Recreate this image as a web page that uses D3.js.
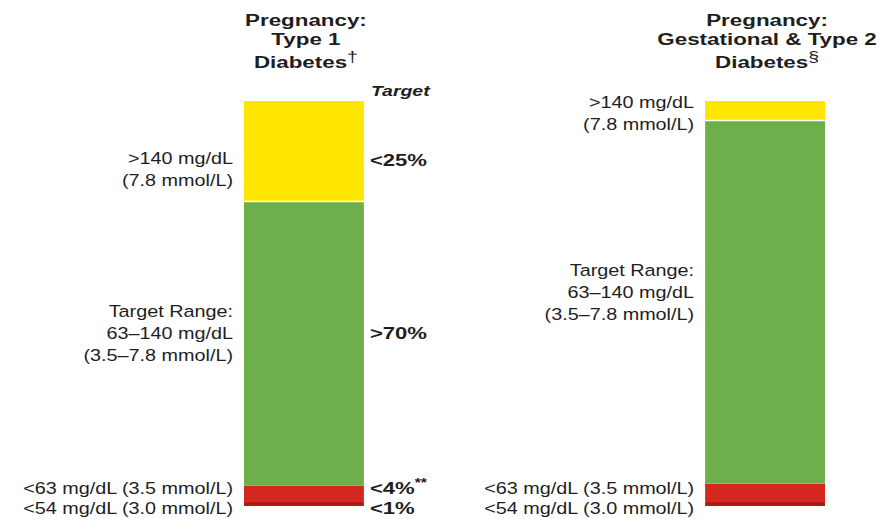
<!DOCTYPE html>
<html>
<head>
<meta charset="utf-8">
<script src="https://cdn.jsdelivr.net/npm/d3@7"></script>
<style>
  body { margin: 0; background: #fff; }
  svg text { font-family: "Liberation Sans", Arial, sans-serif; fill: #1e1e1e; }
</style>
</head>
<body>
<div id="chart"></div>
<script>
// segments from bottom to top
var segments = ["veryLow", "low", "inRange", "high"];
var segColors = ["#b01b16", "#d62620", "#6db04b", "#ffe600"];

var panels = ["type1", "gest"];
var panelTitles = [
  ["Pregnancy:", "Type 1", "Diabetes"],
  ["Pregnancy:", "Gestational & Type 2", "Diabetes"]
];
var titleMarks = ["\u2020", "\u00a7"];

// percent of time in each segment (bottom to top)
var type1Values = [1, 4, 70, 25];
var gestValues = [1, 4.5, 89.5, 5];

var type1Targets = ["<1%", "<4%", ">70%", "<25%"];
var type1TargetMarks = ["", "**", "", ""];

var segLabels = [
  ["<54 mg/dL (3.0 mmol/L)"],
  ["<63 mg/dL (3.5 mmol/L)"],
  ["Target Range:", "63\u2013140 mg/dL", "(3.5\u20137.8 mmol/L)"],
  [">140 mg/dL", "(7.8 mmol/L)"]
];

var width = 887, height = 519;
var lineH = 22;
var regScale = 1.165, boldScale = 1.3;

var svg = d3.select("#chart").append("svg")
  .attr("width", width)
  .attr("height", height);

var x = d3.scaleBand()
  .domain(panels)
  .range([244, 825])
  .paddingInner(0.74)
  .paddingOuter(0);

var y = d3.scaleLinear()
  .domain([0, 100])
  .range([506, 101]);

function stackUp(vals) {
  var acc = 0;
  return vals.map(function(v, i) {
    var d = {key: segments[i], y0: acc, y1: acc + v, i: i};
    acc += v;
    return d;
  });
}

var allValues = [type1Values, gestValues];

// label offsets (px) from each segment's midpoint, per panel
var labelDy = [
  [4, -6, -11, 17],
  [4, -5, -10, 2]
];
var targetDy = [4, -6, -11, 8];

// text helper: horizontally stretched like the source
function addText(g, str, tx, ty, opts) {
  var sx = opts.bold ? boldScale : regScale;
  var t = g.append("text")
    .attr("transform", "translate(" + tx + "," + ty + ") scale(" + sx + ",1)")
    .attr("text-anchor", opts.anchor || "start")
    .style("font-size", (opts.size || 17) + "px")
    .style("font-weight", opts.bold ? "bold" : "normal")
    .style("font-style", opts.italic ? "italic" : "normal")
    .text(str);
  if (opts.sup) {
    t.append("tspan")
      .attr("dy", opts.supDy || -7)
      .style("font-size", (opts.supSize || 12) + "px")
      .style("font-weight", opts.supWeight || "bold")
      .text(opts.sup);
  }
  return t;
}

panels.forEach(function(p, pi) {
  var g = svg.append("g").attr("class", "panel-" + p);
  var data = stackUp(allValues[pi]);
  var bx = x(p), bw = x.bandwidth();

  g.selectAll("rect.seg")
    .data(data)
    .enter().append("rect")
      .attr("class", "seg")
      .attr("x", bx)
      .attr("width", bw)
      .attr("y", function(d) { return y(d.y1); })
      .attr("height", function(d) {
        var h = y(d.y0) - y(d.y1);
        return d.key === "high" ? h - 1.5 : h;
      })
      .style("fill", function(d) { return segColors[d.i]; });

  // title
  var cx = bx + bw / 2 + 2;
  var titleY = [26, 45, 68];
  panelTitles[pi].forEach(function(line, li) {
    addText(g, line, cx, titleY[li], {
      bold: true, size: 17.2, anchor: "middle",
      sup: li === 2 ? titleMarks[pi] : null,
      supSize: 15, supDy: -6, supWeight: "normal"
    });
  });

  // range labels on the left of each bar
  data.forEach(function(d) {
    var lines = segLabels[d.i];
    var mid = (y(d.y0) + y(d.y1)) / 2 + labelDy[pi][d.i];
    var top = mid - (lines.length - 1) * lineH / 2;
    lines.forEach(function(line, li) {
      addText(g, line, bx - 11, top + li * lineH + 6, {size: 17, anchor: "end"});
    });
  });

  // targets column (type 1 only)
  if (p === "type1") {
    addText(g, "Target", bx + bw + 7, 96, {bold: true, italic: true, size: 15});
    data.forEach(function(d) {
      var mid = (y(d.y0) + y(d.y1)) / 2 + targetDy[d.i];
      addText(g, type1Targets[d.i], bx + bw + 6, mid + 6, {
        bold: true, size: 17, sup: type1TargetMarks[d.i] || null
      });
    });
  }
});
</script>
</body>
</html>
